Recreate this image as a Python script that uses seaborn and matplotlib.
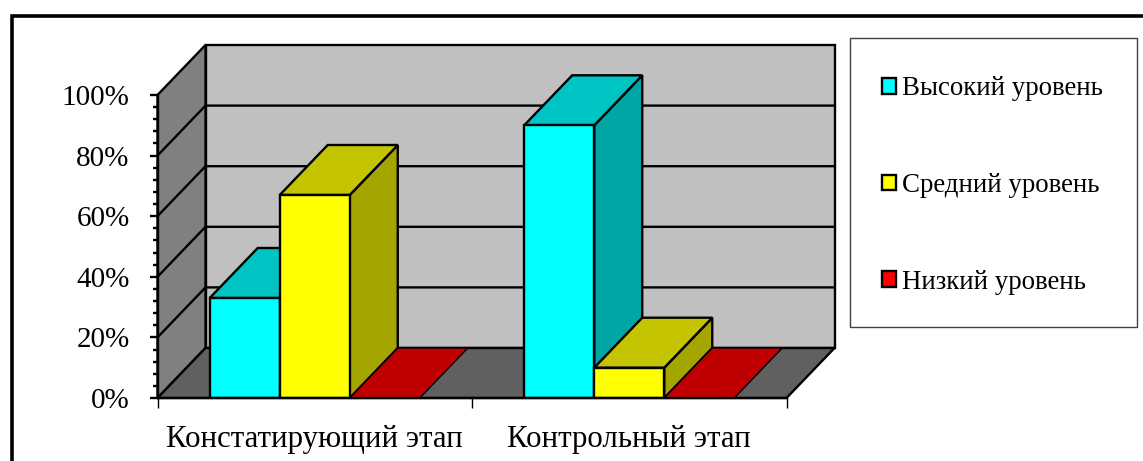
import matplotlib
matplotlib.use("Agg")
import matplotlib.pyplot as plt
import pandas as pd
import seaborn as sns
from matplotlib.lines import Line2D
from matplotlib.patches import Polygon, Rectangle
from matplotlib.ticker import MultipleLocator, PercentFormatter

stages = ["Констатирующий этап", "Контрольный этап"]
levels = ["Высокий уровень", "Средний уровень", "Низкий уровень"]
high_values = [33, 90]
mid_values = [67, 10]
low_values = [0, 0]

FRONT = {"Высокий уровень": "#00FFFF", "Средний уровень": "#FFFF00", "Низкий уровень": "#FF0000"}
TOP = {"#00FFFF": "#00C4C4", "#FFFF00": "#C4C400", "#FF0000": "#C00000"}
SIDE = {"#00FFFF": "#00A5A5", "#FFFF00": "#A5A500", "#FF0000": "#A50000"}

W, H = 1143, 461
DEPTH_X = 48 / 314.5
DEPTH_Y = 50 / 303 * 100

df = pd.DataFrame(
    {
        "stage": stages * 3,
        "level": [levels[0]] * 2 + [levels[1]] * 2 + [levels[2]] * 2,
        "value": high_values + mid_values + low_values,
    }
)

sns.set_theme(style="white")
plt.rcParams["font.family"] = ["Liberation Serif", "DejaVu Serif"]

fig = plt.figure(figsize=(W / 100, H / 100), dpi=100, facecolor="white")
ax = fig.add_axes([157.5 / W, 1 - 398 / H, 629 / W, 303 / H])
ax.patch.set_alpha(0)

sns.barplot(
    data=df, x="stage", y="value", hue="level", hue_order=levels, palette=FRONT,
    width=0.668, gap=0, edgecolor="black", linewidth=1.7, saturation=1, ax=ax,
)
ax.set_xlim(-0.5, 1.5)
ax.set_ylim(0, 100)
x0, x1 = ax.get_xlim()


def poly(points, color, z, edge="black", lw=1.7):
    ax.add_patch(Polygon(points, closed=True, facecolor=color, edgecolor=edge,
                         linewidth=lw, clip_on=False, zorder=z, joinstyle="miter"))


# walls and floor
poly([(x0 + DEPTH_X, DEPTH_Y), (x1 + DEPTH_X, DEPTH_Y), (x1 + DEPTH_X, 100 + DEPTH_Y), (x0 + DEPTH_X, 100 + DEPTH_Y)], "#C0C0C0", 1)
poly([(x0, 0), (x0, 100), (x0 + DEPTH_X, 100 + DEPTH_Y), (x0 + DEPTH_X, DEPTH_Y)], "#808080", 1)
poly([(x0, 0), (x1, 0), (x1 + DEPTH_X, DEPTH_Y), (x0 + DEPTH_X, DEPTH_Y)], "#606060", 1)

for v in range(20, 100, 20):
    ax.plot([x0, x0 + DEPTH_X, x1 + DEPTH_X], [v, v + DEPTH_Y, v + DEPTH_Y],
            color="black", lw=1.7, clip_on=False, zorder=2)

# extrude the bars, left to right so nearer ones overlap
bars = sorted((p for c in ax.containers for p in c), key=lambda p: p.get_x())
z = 3
for bar in bars:
    bx, bw, bh = bar.get_x(), bar.get_width(), bar.get_height()
    front = matplotlib.colors.to_hex(bar.get_facecolor()).upper()
    if bh > 0:
        poly([(bx + bw, 0), (bx + bw + DEPTH_X, DEPTH_Y), (bx + bw + DEPTH_X, bh + DEPTH_Y), (bx + bw, bh)], SIDE[front], z)
    poly([(bx, bh), (bx + bw, bh), (bx + bw + DEPTH_X, bh + DEPTH_Y), (bx + DEPTH_X, bh + DEPTH_Y)], TOP[front], z + 0.1,
         edge="black", lw=1.7 if bh > 0 else 1.0)
    bar.set_zorder(z + 0.2)
    if bh == 0:
        bar.set_visible(False)
    z += 1

ax.set_xlabel("")
ax.set_ylabel("")
ax.set_yticks(range(0, 101, 20))
ax.yaxis.set_minor_locator(MultipleLocator(4))
ax.yaxis.set_major_formatter(PercentFormatter(100, decimals=0))
ax.set_xticks([0, 1], stages)
ax.set_xticks([-0.5, 0.5, 1.5], minor=True)

ax.tick_params(axis="y", which="major", left=True, length=6, width=1.7, pad=14, labelsize=21, color="black", labelcolor="black")
ax.tick_params(axis="y", which="minor", left=True, length=3.5, width=1.7, color="black")
ax.tick_params(axis="x", which="major", length=0, pad=19.5, labelsize=22.2, labelcolor="black")
ax.tick_params(axis="x", which="minor", bottom=True, length=7, width=1.0, color="black")

for side in ["top", "right"]:
    ax.spines[side].set_visible(False)
for side in ["left", "bottom"]:
    ax.spines[side].set_visible(True)
    ax.spines[side].set_color("black")
    ax.spines[side].set_linewidth(1.7)
    ax.spines[side].set_zorder(30)

# legend box, kept under the axes so the legend text stays visible
fig.add_artist(Rectangle((849.5 / W, 1 - 326.5 / H), 287 / W, 288 / H, transform=fig.transFigure,
                         facecolor="white", edgecolor="#404040", linewidth=1.0, zorder=-1))
sns.move_legend(
    ax, loc="center left", bbox_to_anchor=(882 / W, 1 - 185.5 / H), bbox_transform=fig.transFigure,
    title=None, frameon=False, fontsize=19.4, labelspacing=2.66, handlelength=0.52, handleheight=0.52,
    handletextpad=0.225, borderpad=0, borderaxespad=0, labelcolor="black",
)
for h in ax.get_legend().get_patches():
    h.set_linewidth(1.7)
ax.get_legend().set_zorder(40)

# outer frame, the right edge is cut off
fig.add_artist(Line2D([11.5 / W, 11.5 / W, 1], [0, 1 - 16 / H, 1 - 16 / H], transform=fig.transFigure,
                      color="black", linewidth=2.6, solid_joinstyle="miter"))

fig.savefig("out.png", dpi=100)
